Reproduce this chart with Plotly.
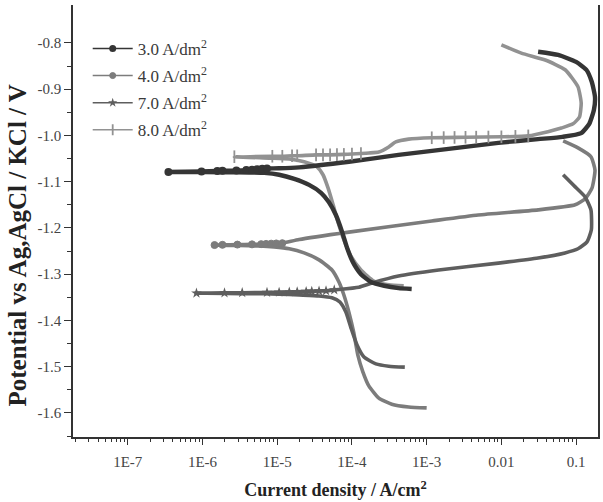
import numpy as np
import plotly.graph_objects as go

# ---------------- polarization data (current in A/cm2, potential in V) ----------------
# each curve: cathodic branch (scan start -> Ecorr) and anodic branch (Ecorr -> scan end)

# 3.0 A/dm2
cat_cur_30 = [6.3e-4, 4.2e-4, 2.7e-4, 1.8e-4, 1.32e-4, 1.03e-4, 8.6e-5, 7.4e-5, 6.1e-5, 4.9e-5,
              3.86e-5, 2.67e-5, 1.69e-5, 1.06e-5, 6.7e-6, 4.2e-6, 2.0e-6, 3.5e-7]
cat_pot_30 = [-1.332, -1.330, -1.325, -1.317, -1.300, -1.274, -1.243, -1.209, -1.172, -1.144,
              -1.124, -1.107, -1.094, -1.085, -1.081, -1.080, -1.0795, -1.079]
an_cur_30 = [3.5e-7, 9.7e-7, 1.58e-6, 1.85e-6, 2.84e-6, 3.86e-6, 4.6e-6, 5.4e-6, 6.3e-6, 7.3e-6,
             1.06e-5, 1.97e-5, 9.1e-5, 4.2e-4, 1.97e-3, 9.1e-3, 3.1e-2, 6.6e-2, 0.117, 0.150,
             0.173, 0.179, 0.162, 0.137, 0.100, 0.0575, 0.031]
an_pot_30 = [-1.079, -1.078, -1.077, -1.0765, -1.076, -1.075, -1.074, -1.073, -1.072, -1.0715,
             -1.071, -1.069, -1.057, -1.042, -1.029, -1.016, -1.008, -1.003, -0.995, -0.975,
             -0.945, -0.917, -0.884, -0.858, -0.841, -0.826, -0.819]
mk_cur_30 = [3.5e-7, 9.7e-7, 1.58e-6, 1.85e-6, 2.84e-6, 3.86e-6, 4.6e-6, 5.4e-6, 6.3e-6, 7.3e-6]

# 4.0 A/dm2
cat_cur_40 = [1.0e-3, 5.75e-4, 3.41e-4, 2.29e-4, 1.69e-4, 1.40e-4, 1.20e-4, 1.06e-4, 9.1e-5, 7.8e-5,
              6.7e-5, 5.4e-5, 3.63e-5, 2.29e-5, 1.45e-5, 9.1e-6, 5.75e-6, 3.1e-6, 1.45e-6]
cat_pot_40 = [-1.589, -1.587, -1.581, -1.568, -1.542, -1.511, -1.475, -1.427, -1.382, -1.345,
              -1.317, -1.291, -1.269, -1.254, -1.245, -1.241, -1.239, -1.238, -1.237]
an_cur_40 = [1.45e-6, 1.85e-6, 2.93e-6, 4.6e-6, 6.1e-6, 7.1e-6, 8.3e-6, 9.7e-6, 1.17e-5, 1.97e-5,
             9.1e-5, 1.17e-3, 4.9e-3, 3.11e-2, 9.7e-2, 0.132, 0.163, 0.179, 0.158, 0.106, 0.0671]
an_pot_40 = [-1.237, -1.2365, -1.236, -1.2355, -1.235, -1.2345, -1.234, -1.2335, -1.233, -1.225,
             -1.209, -1.185, -1.172, -1.161, -1.150, -1.137, -1.114, -1.075, -1.046, -1.027, -1.012]
mk_cur_40 = [1.45e-6, 1.85e-6, 2.93e-6, 4.6e-6, 6.1e-6, 7.1e-6, 8.3e-6, 9.7e-6, 1.17e-5]

# 7.0 A/dm2
cat_cur_70 = [5.1e-4, 3.11e-4, 2.09e-4, 1.45e-4, 1.17e-4, 9.7e-5, 8.3e-5, 6.9e-5, 5.4e-5, 3.63e-5,
              1.97e-5, 1.06e-5, 4.2e-6, 8.3e-7]
cat_pot_70 = [-1.501, -1.499, -1.494, -1.479, -1.453, -1.416, -1.382, -1.360, -1.351, -1.347,
              -1.345, -1.343, -1.342, -1.341]
an_cur_70 = [8.3e-7, 1.97e-6, 3.4e-6, 7.3e-6, 1.06e-5, 1.45e-5, 1.85e-5, 2.44e-5, 2.9e-5, 3.63e-5,
             4.5e-5, 5.8e-5, 1.24e-4, 1.86e-4, 4.2e-4, 1.45e-3, 9.1e-3, 3.1e-2, 7.1e-2, 0.106,
             0.140, 0.160, 0.158, 0.132, 0.094, 0.0671]
an_pot_70 = [-1.341, -1.3405, -1.340, -1.3395, -1.339, -1.3385, -1.338, -1.3375, -1.337, -1.3365,
             -1.336, -1.334, -1.328, -1.319, -1.304, -1.291, -1.276, -1.265, -1.254, -1.245,
             -1.230, -1.204, -1.161, -1.133, -1.109, -1.085]
mk_cur_70 = [8.3e-7, 1.97e-6, 3.4e-6, 7.3e-6, 1.06e-5, 1.45e-5, 1.85e-5, 2.44e-5, 2.9e-5, 3.63e-5,
             4.5e-5, 5.8e-5]

# 8.0 A/dm2
cat_cur_80 = [4.93e-4, 3.11e-4, 1.96e-4, 1.32e-4, 9.7e-5, 7.8e-5, 6.5e-5, 5.6e-5, 4.8e-5, 4.1e-5,
              3.4e-5, 2.29e-5, 1.45e-5, 7.8e-6, 2.67e-6]
cat_pot_80 = [-1.325, -1.323, -1.315, -1.291, -1.261, -1.226, -1.187, -1.150, -1.114, -1.085,
              -1.068, -1.057, -1.051, -1.049, -1.046]
an_cur_80 = [2.67e-6, 8.6e-6, 1.17e-5, 1.58e-5, 1.85e-5, 3.31e-5, 5.1e-5, 7.8e-5, 1.0e-4, 1.32e-4,
             1.69e-4, 2.29e-4, 3.11e-4, 3.86e-4, 5.75e-4, 1.17e-3, 3.31e-3, 1.0e-2, 2.29e-2, 4.2e-2,
             6.35e-2, 9.1e-2, 0.111, 0.117, 0.106, 0.0713, 0.0386, 0.0185, 0.0100]
an_pot_80 = [-1.046, -1.045, -1.045, -1.044, -1.044, -1.042, -1.042, -1.041, -1.040, -1.039,
             -1.038, -1.036, -1.025, -1.014, -1.008, -1.005, -1.004, -1.003, -1.001, -0.992,
             -0.984, -0.975, -0.960, -0.930, -0.895, -0.858, -0.837, -0.822, -0.804]
mk_cur_80 = [2.67e-6, 8.6e-6, 1.17e-5, 1.58e-5, 1.85e-5, 3.31e-5, 4.1e-5, 5.1e-5, 6.3e-5, 7.8e-5,
             1.0e-4, 1.32e-4, 1.17e-3, 1.69e-3, 2.36e-3, 3.31e-3, 4.6e-3, 6.7e-3, 1.0e-2, 1.54e-2,
             2.29e-2]

x_tick_vals = [1e-7, 1e-6, 1e-5, 1e-4, 1e-3, 1e-2, 1e-1]
x_tick_text = ["1E-7", "1E-6", "1E-5", "1E-4", "1E-3", "0.01", "0.1"]
y_tick_vals = [-0.8, -0.9, -1.0, -1.1, -1.2, -1.3, -1.4, -1.5, -1.6]

series = [
    dict(name="3.0 A/dm<sup>2</sup>", cat=(cat_cur_30, cat_pot_30), an=(an_cur_30, an_pot_30), mk=mk_cur_30,
         color="#353535", width=4.4, symbol="circle", msize=8, mline=0),
    dict(name="4.0 A/dm<sup>2</sup>", cat=(cat_cur_40, cat_pot_40), an=(an_cur_40, an_pot_40), mk=mk_cur_40,
         color="#7c7c7c", width=3.6, symbol="circle", msize=7, mline=1),
    dict(name="7.0 A/dm<sup>2</sup>", cat=(cat_cur_70, cat_pot_70), an=(an_cur_70, an_pot_70), mk=mk_cur_70,
         color="#5e5e5e", width=3.6, symbol="star", msize=8, mline=0),
    dict(name="8.0 A/dm<sup>2</sup>", cat=(cat_cur_80, cat_pot_80), an=(an_cur_80, an_pot_80), mk=mk_cur_80,
         color="#929292", width=3.6, symbol="line-ns-open", msize=9, mline=1.8),
]


def marker_potentials(an_cur, an_pot, mk):
    """Place markers on the rising part of the anodic branch."""
    lc = np.log10(an_cur)
    k = int(np.argmax(lc))
    return np.interp(np.log10(mk), lc[:k + 1], np.asarray(an_pot)[:k + 1])


fig = go.Figure()

# curves (light ones first so the dark curve stays on top)
for s in [series[3], series[1], series[2], series[0]]:
    cc, cp = s["cat"]
    ac, ap = s["an"]
    cur = list(cc) + list(ac[1:])
    pot = list(cp) + list(ap[1:])
    fig.add_trace(go.Scatter(x=cur, y=pot, mode="lines", showlegend=False,
                             line=dict(color=s["color"], width=s["width"], shape="spline", smoothing=0.5),
                             hoverinfo="skip"))

for s in [series[3], series[1], series[2], series[0]]:
    ac, ap = s["an"]
    fig.add_trace(go.Scatter(x=s["mk"], y=marker_potentials(ac, ap, s["mk"]), mode="markers",
                             showlegend=False,
                             marker=dict(symbol=s["symbol"], size=s["msize"], color=s["color"],
                                         line=dict(color=s["color"], width=s["mline"]))))

# legend entries
for s in series:
    fig.add_trace(go.Scatter(x=[None], y=[None], mode="lines+markers", name=s["name"],
                             legendgroup=s["name"],
                             line=dict(color=s["color"], width=1.5),
                             marker=dict(symbol=s["symbol"], size=s["msize"] - 1, color=s["color"],
                                         line=dict(color=s["color"], width=s["mline"]))))

font_family = "Liberation Serif"
fig.update_layout(
    width=603, height=502,
    margin=dict(l=73, r=3, t=5, b=65),
    paper_bgcolor="white", plot_bgcolor="white",
    font=dict(family=font_family, size=15, color="#3a3a3a"),
    showlegend=True,
    legend=dict(x=0.028, y=0.94, xanchor="left", yanchor="top", bgcolor="rgba(0,0,0,0)",
                font=dict(family=font_family, size=17, color="#3a3a3a"), tracegroupgap=2,
                itemwidth=40),
    xaxis=dict(type="log", range=[-7.733, -0.707],
               tickmode="array", tickvals=x_tick_vals, ticktext=x_tick_text,
               ticks="outside", ticklen=6, tickwidth=1.3, tickcolor="#333",
               ticklabelstandoff=4,
               minor=dict(tickmode="array",
                          tickvals=[m * 10.0 ** e for e in range(-8, 0) for m in range(2, 10)],
                          ticks="outside", ticklen=3, tickwidth=1, tickcolor="#333"),
               showline=True, linecolor="#333", linewidth=1.5, mirror=False,
               showgrid=False, zeroline=False,
               tickfont=dict(family=font_family, size=15, color="#444"),
               title=dict(text="<b>Current density / A/cm<sup>2</sup></b>",
                          font=dict(family=font_family, size=18, color="#222"), standoff=15)),
    yaxis=dict(range=[-1.652, -0.718],
               tickmode="array", tickvals=y_tick_vals,
               ticktext=["%.1f" % v for v in y_tick_vals],
               ticks="outside", ticklen=7, tickwidth=1.3, tickcolor="#333",
               minor=dict(tickmode="array",
                          tickvals=[round(v - 0.05, 2) for v in y_tick_vals],
                          ticks="outside", ticklen=4, tickwidth=1, tickcolor="#333"),
               showline=True, linecolor="#333", linewidth=1.5, mirror=True,
               showgrid=False, zeroline=False,
               tickfont=dict(family=font_family, size=15, color="#444")),
    annotations=[dict(text="<b>Potential vs Ag,AgCl / KCl / V</b>", textangle=-90,
                      xref="paper", yref="paper", x=-0.106, y=0.444,
                      xanchor="center", yanchor="middle", showarrow=False,
                      font=dict(family=font_family, size=25, color="#222"))],
)

fig.write_html("out.html")
